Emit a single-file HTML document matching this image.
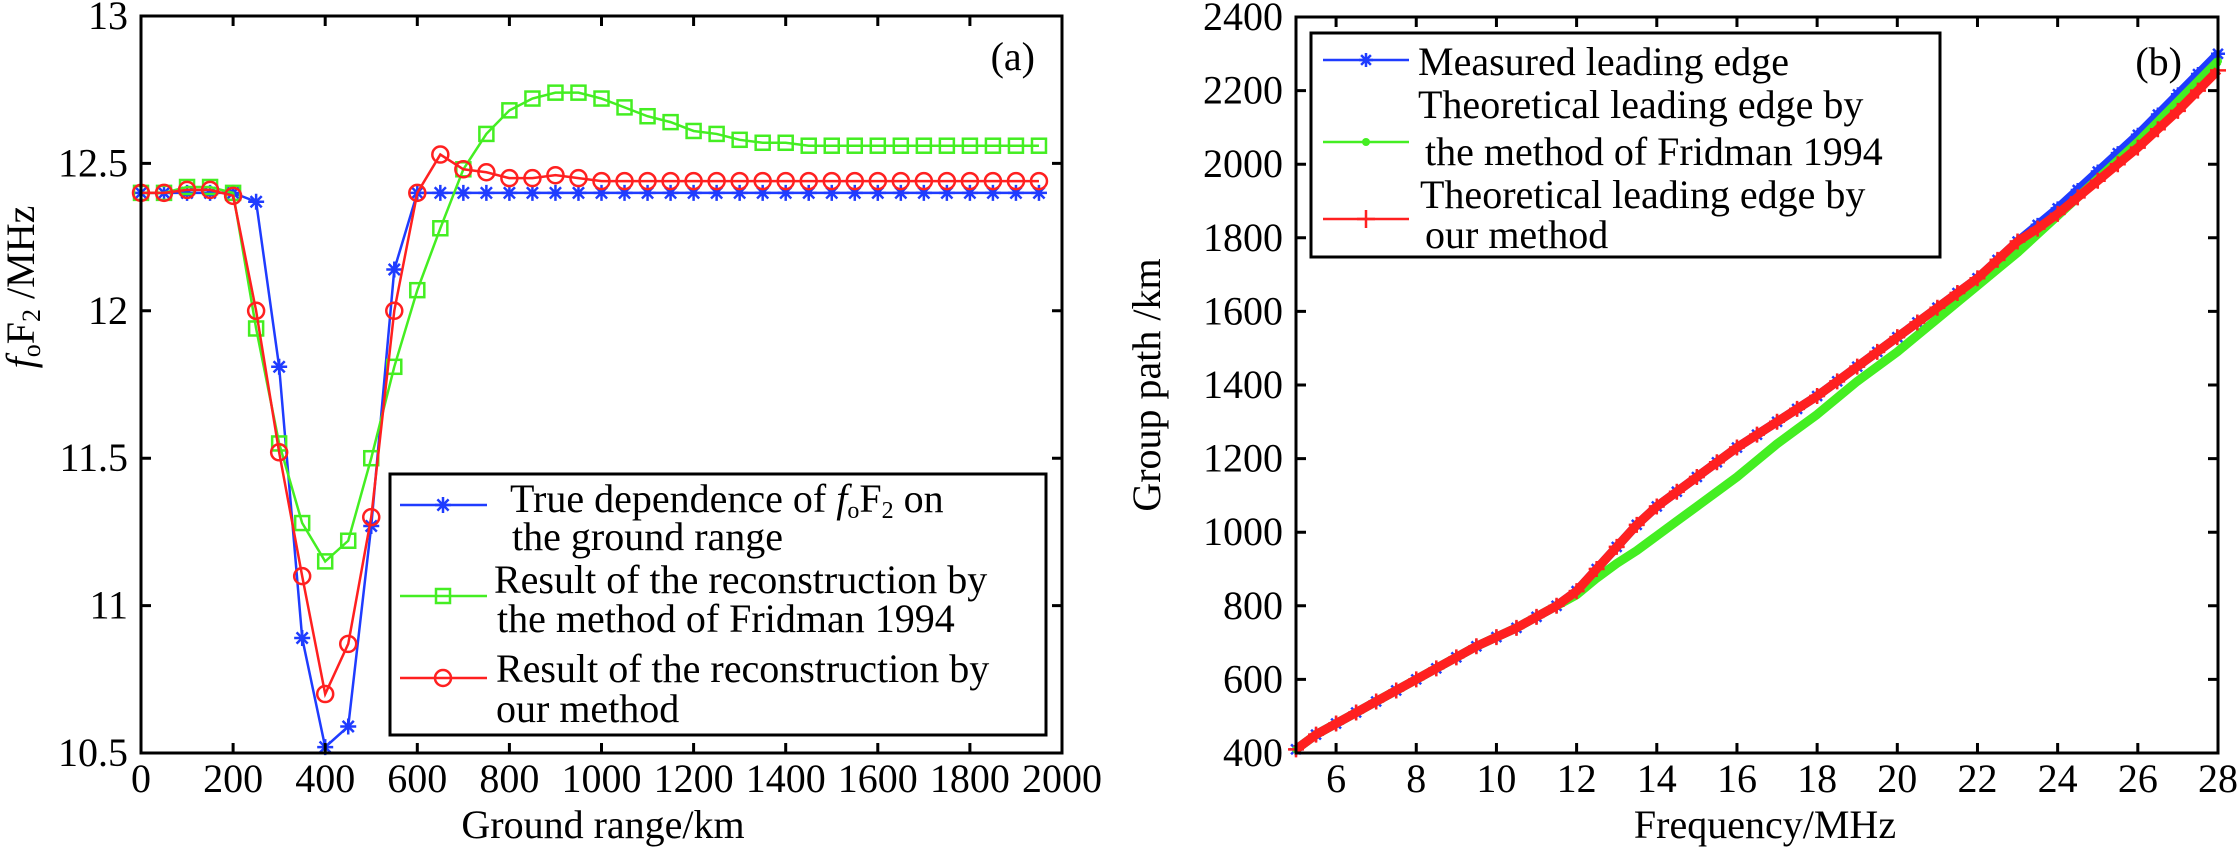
<!DOCTYPE html>
<html><head><meta charset="utf-8"><style>
html,body{margin:0;padding:0;background:#fff;}
svg{display:block;font-family:"Liberation Serif",serif;}
</style></head><body>
<svg id="fig" width="2237" height="851" viewBox="0 0 2237 851" xmlns="http://www.w3.org/2000/svg">
<g id="chartA"></g>
<g id="chartB"></g>
</svg>
<script>
// ---------- Chart (a) data ----------
const rangeKm = [0,50,100,150,200,250,300,350,400,450,500,550,600,650,700,750,800,850,900,950,1000,1050,1100,1150,1200,1250,1300,1350,1400,1450,1500,1550,1600,1650,1700,1750,1800,1850,1900,1950];
const trueFoF2 = [12.4,12.4,12.4,12.4,12.4,12.37,11.81,10.89,10.52,10.59,11.27,12.14,12.4,12.4,12.4,12.4,12.4,12.4,12.4,12.4,12.4,12.4,12.4,12.4,12.4,12.4,12.4,12.4,12.4,12.4,12.4,12.4,12.4,12.4,12.4,12.4,12.4,12.4,12.4,12.4];
const fridmanFoF2 = [12.4,12.4,12.42,12.42,12.4,11.94,11.55,11.28,11.15,11.22,11.5,11.81,12.07,12.28,12.48,12.6,12.68,12.72,12.74,12.74,12.72,12.69,12.66,12.64,12.61,12.6,12.58,12.57,12.57,12.56,12.56,12.56,12.56,12.56,12.56,12.56,12.56,12.56,12.56,12.56];
const oursFoF2 = [12.4,12.4,12.41,12.41,12.39,12.0,11.52,11.1,10.7,10.87,11.3,12.0,12.4,12.53,12.48,12.47,12.45,12.45,12.46,12.45,12.44,12.44,12.44,12.44,12.44,12.44,12.44,12.44,12.44,12.44,12.44,12.44,12.44,12.44,12.44,12.44,12.44,12.44,12.44,12.44];
const xTicksA = [0,200,400,600,800,1000,1200,1400,1600,1800,2000];
const yTicksA = [10.5,11,11.5,12,12.5,13];
const yTickLabelsA = ["10.5","11","11.5","12","12.5","13"];

// ---------- Chart (b) data ----------
const freqMHz = [5,5.5,6,6.5,7,7.5,8,8.5,9,9.5,10,10.5,11,11.5,12,12.5,13,13.5,14,14.5,15,15.5,16,16.5,17,17.5,18,18.5,19,19.5,20,20.5,21,21.5,22,22.5,23,23.5,24,24.5,25,25.5,26,26.5,27,27.5,28];
const measured = [410,450,480,510,540,570,600,630,660,690,715,740,770,800,840,900,960,1020,1070,1110,1150,1190,1230,1265,1300,1335,1370,1410,1450,1490,1530,1570,1610,1650,1690,1740,1790,1835,1880,1930,1980,2030,2080,2135,2190,2245,2300];
const fridman = [410,450,480,510,540,570,600,630,660,690,715,740,770,800,830,875,915,950,990,1030,1070,1110,1150,1195,1240,1280,1320,1365,1410,1450,1490,1535,1580,1625,1670,1715,1760,1810,1860,1910,1960,2010,2060,2115,2170,2225,2280];
const ours = [410,450,480,510,540,570,600,630,660,690,715,740,770,800,840,900,960,1020,1070,1110,1150,1190,1230,1265,1300,1335,1370,1410,1450,1490,1530,1570,1610,1650,1690,1740,1790,1825,1865,1910,1955,2000,2045,2095,2145,2200,2255];
const xTicksB = [6,8,10,12,14,16,18,20,22,24,26,28];
const yTicksB = [400,600,800,1000,1200,1400,1600,1800,2000,2200,2400];

const NS = "http://www.w3.org/2000/svg";
function mk(parent, tag, attrs, text) {
  const e = document.createElementNS(NS, tag);
  for (const k in attrs) e.setAttribute(k, attrs[k]);
  if (text !== undefined) e.textContent = text;
  parent.appendChild(e);
  return e;
}
const BLUE = "#1f3cff", GREEN = "#44ee22", RED = "#ff2020";

function markerPath(kind, x, y, s) {
  if (kind === "star") {
    const d = s * 0.7;
    return `M${x-s},${y}L${x+s},${y}M${x},${y-s}L${x},${y+s}M${x-d},${y-d}L${x+d},${y+d}M${x-d},${y+d}L${x+d},${y-d}`;
  }
  if (kind === "plus") return `M${x-s},${y}L${x+s},${y}M${x},${y-s}L${x},${y+s}`;
  return "";
}
function drawMarker(g, kind, x, y, color, s) {
  let m;
  if (kind === "circle") m = mk(g, "circle", {cx: x, cy: y, r: s, fill: "none", stroke: color, "stroke-width": 2.5});
  else if (kind === "square") m = mk(g, "rect", {x: x - s, y: y - s, width: 2 * s, height: 2 * s, fill: "none", stroke: color, "stroke-width": 2.5});
  else if (kind === "dot") m = mk(g, "circle", {cx: x, cy: y, r: s, fill: color});
  else m = mk(g, "path", {d: markerPath(kind, x, y, s), stroke: color, "stroke-width": 2.5, fill: "none"});
  return m;
}

// ---------- Chart A ----------
(function () {
  const g = document.getElementById("chartA");
  const L = 141, R = 1062, T = 16, B = 753;
  const xA = v => L + (v - 0) / 2000 * (R - L);
  const yA = v => B - (v - 10.5) / 2.5 * (B - T);

  const series = [
    {name: "series-true", vals: trueFoF2, color: BLUE, kind: "star", s: 8},
    {name: "series-fridman", vals: fridmanFoF2, color: GREEN, kind: "square", s: 7},
    {name: "series-ours", vals: oursFoF2, color: RED, kind: "circle", s: 8}
  ];
  series.forEach(sr => {
    const sg = mk(g, "g", {});
    
    
    const pts = rangeKm.map((x, i) => xA(x) + "," + yA(sr.vals[i])).join(" ");
    const pl = mk(sg, "polyline", {points: pts, fill: "none", stroke: sr.color, "stroke-width": 2.5});
    
    
    rangeKm.forEach((x, i) => {
      const m = drawMarker(sg, sr.kind, xA(x), yA(sr.vals[i]), sr.color, sr.s);
      
      
    });
  });

  // axes box
  const box = mk(g, "rect", {x: L, y: T, width: R - L, height: B - T, fill: "none", stroke: "#000", "stroke-width": 3});
  
  
  xTicksA.forEach(v => {
    const x = xA(v);
    mk(g, "path", {d: `M${x},${B}V${B-10}M${x},${T}V${T+10}`, stroke: "#000", "stroke-width": 3});
    const t = mk(g, "text", {x: x, y: 792, "font-size": 40, "text-anchor": "middle"}, String(v));
    
    
  });
  yTicksA.forEach((v, i) => {
    const y = yA(v);
    mk(g, "path", {d: `M${L},${y}H${L+10}M${R},${y}H${R-10}`, stroke: "#000", "stroke-width": 3});
    const t = mk(g, "text", {x: 128, y: y + 13, "font-size": 40, "text-anchor": "end"}, yTickLabelsA[i]);
    
    
  });
  const xt = mk(g, "text", {x: 603, y: 838, "font-size": 40, "text-anchor": "middle"}, "Ground range/km");
  
  
  const yt = mk(g, "text", {x: 0, y: 0, "font-size": 40, "text-anchor": "middle", transform: "translate(34,287) rotate(-90)"});
  
  
  mk(yt, "tspan", {"font-style": "italic"}, "f");
  mk(yt, "tspan", {"font-size": 26, dy: 6}, "o");
  mk(yt, "tspan", {dy: -6}, "F");
  mk(yt, "tspan", {"font-size": 26, dy: 6}, "2");
  mk(yt, "tspan", {dy: -6}, " /MHz");
  const pl = mk(g, "text", {x: 1035, y: 70, "font-size": 40, "text-anchor": "end"}, "(a)");
  
  

  // legend
  const lg = mk(g, "g", {});
  
  
  mk(lg, "rect", {x: 390, y: 474, width: 656, height: 261, fill: "#fff", stroke: "#000", "stroke-width": 3});
  const rows = [
    {y: 505, color: BLUE, kind: "star", s: 8, name: "legend-entry-true"},
    {y: 596, color: GREEN, kind: "square", s: 7, name: "legend-entry-fridman"},
    {y: 678, color: RED, kind: "circle", s: 8, name: "legend-entry-ours"}
  ];
  rows.forEach(r => {
    const eg = mk(lg, "g", {});
    
    
    mk(eg, "line", {x1: 400, x2: 487, y1: r.y, y2: r.y, stroke: r.color, "stroke-width": 2.5});
    drawMarker(eg, r.kind, 443, r.y, r.color, r.s);
  });
  const t1 = mk(lg, "text", {x: 510, y: 512, "font-size": 40});
  mk(t1, "tspan", {}, "True   dependence of ");
  mk(t1, "tspan", {"font-style": "italic"}, "f");
  mk(t1, "tspan", {"font-size": 24, dy: 6}, "o");
  mk(t1, "tspan", {dy: -6}, "F");
  mk(t1, "tspan", {"font-size": 24, dy: 6}, "2");
  mk(t1, "tspan", {dy: -6}, " on");
  mk(lg, "text", {x: 512, y: 550, "font-size": 40}, "the ground range");
  mk(lg, "text", {x: 494, y: 593, "font-size": 40}, "Result of the reconstruction by");
  mk(lg, "text", {x: 497, y: 632, "font-size": 40}, "the method of Fridman 1994");
  mk(lg, "text", {x: 496, y: 682, "font-size": 40}, "Result of the reconstruction by");
  mk(lg, "text", {x: 496, y: 722, "font-size": 40}, "our method");
})();

// ---------- Chart B ----------
(function () {
  const g = document.getElementById("chartB");
  const L = 1296, R = 2218, T = 17, B = 753;
  const xB = v => L + (v - 5) / 23 * (R - L);
  const yB = v => B - (v - 400) / 2000 * (B - T);

  const series = [
    {name: "series-measured", vals: measured, color: BLUE, kind: "star", s: 7},
    {name: "series-fridman-b", vals: fridman, color: GREEN, kind: "dot", s: 4},
    {name: "series-ours-b", vals: ours, color: RED, kind: "plus", s: 8}
  ];
  series.forEach(sr => {
    const sg = mk(g, "g", {});
    
    
    const pts = freqMHz.map((x, i) => xB(x) + "," + yB(sr.vals[i])).join(" ");
    const pl = mk(sg, "polyline", {points: pts, fill: "none", stroke: sr.color, "stroke-width": 9, "stroke-linejoin": "round"});
    
    
    freqMHz.forEach((x, i) => {
      const m = drawMarker(sg, sr.kind, xB(x), yB(sr.vals[i]), sr.color, sr.s);
      
      
    });
  });

  const box = mk(g, "rect", {x: L, y: T, width: R - L, height: B - T, fill: "none", stroke: "#000", "stroke-width": 3});
  
  
  xTicksB.forEach(v => {
    const x = xB(v);
    mk(g, "path", {d: `M${x},${B}V${B-10}M${x},${T}V${T+10}`, stroke: "#000", "stroke-width": 3});
    const t = mk(g, "text", {x: x, y: 792, "font-size": 40, "text-anchor": "middle"}, String(v));
    
    
  });
  yTicksB.forEach(v => {
    const y = yB(v);
    mk(g, "path", {d: `M${L},${y}H${L+10}M${R},${y}H${R-10}`, stroke: "#000", "stroke-width": 3});
    const t = mk(g, "text", {x: 1283, y: y + 13, "font-size": 40, "text-anchor": "end"}, String(v));
    
    
  });
  const xt = mk(g, "text", {x: 1765, y: 838, "font-size": 40, "text-anchor": "middle"}, "Frequency/MHz");
  
  
  const yt = mk(g, "text", {x: 0, y: 0, "font-size": 40, "text-anchor": "middle", transform: "translate(1160,385) rotate(-90)"}, "Group path /km");
  
  
  const pl = mk(g, "text", {x: 2182, y: 75, "font-size": 40, "text-anchor": "end"}, "(b)");
  
  

  const lg = mk(g, "g", {});
  
  
  mk(lg, "rect", {x: 1311, y: 33, width: 629, height: 224, fill: "#fff", stroke: "#000", "stroke-width": 3});
  const rows = [
    {y: 60, color: BLUE, kind: "star", s: 7, name: "legend-entry-measured"},
    {y: 142, color: GREEN, kind: "dot", s: 4, name: "legend-entry-fridman-b"},
    {y: 219, color: RED, kind: "plus", s: 9, name: "legend-entry-ours-b"}
  ];
  rows.forEach(r => {
    const eg = mk(lg, "g", {});
    
    
    mk(eg, "line", {x1: 1323, x2: 1409, y1: r.y, y2: r.y, stroke: r.color, "stroke-width": 2.5});
    drawMarker(eg, r.kind, 1366, r.y, r.color, r.s);
  });
  mk(lg, "text", {x: 1418, y: 75, "font-size": 40}, "Measured leading edge");
  mk(lg, "text", {x: 1418, y: 118, "font-size": 40}, "Theoretical leading edge by");
  mk(lg, "text", {x: 1425, y: 165, "font-size": 40}, "the method of Fridman 1994");
  mk(lg, "text", {x: 1420, y: 208, "font-size": 40}, "Theoretical leading edge by");
  mk(lg, "text", {x: 1425, y: 248, "font-size": 40}, "our method");
})();
</script>
</body></html>
